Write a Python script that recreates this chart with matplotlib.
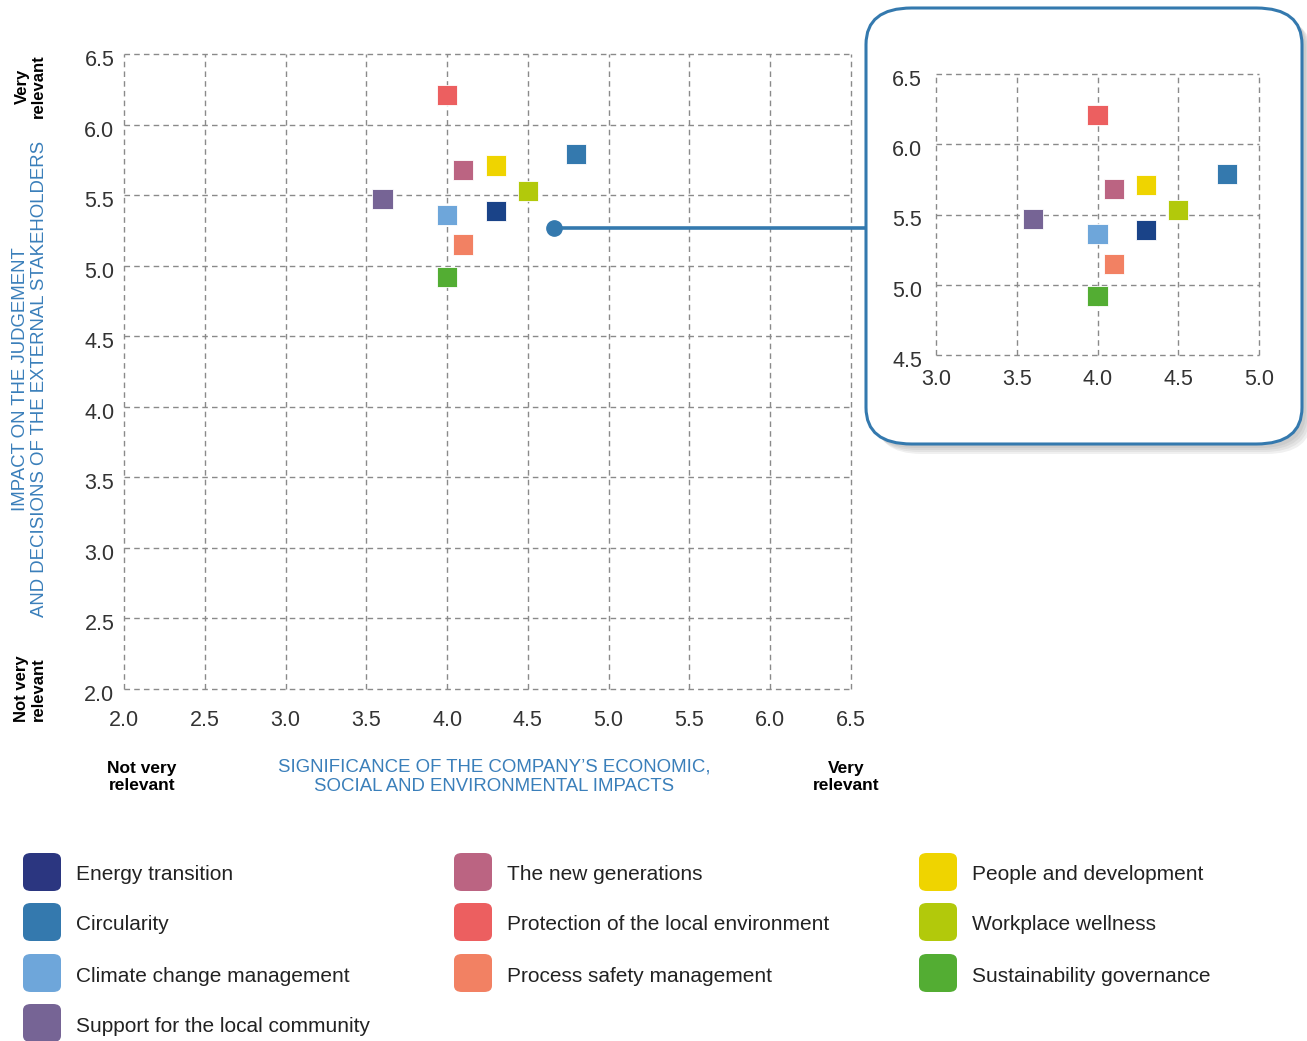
import numpy as np
import matplotlib
matplotlib.use("Agg")
import matplotlib.pyplot as plt
from matplotlib.patches import FancyBboxPatch
from matplotlib.lines import Line2D
from matplotlib.transforms import ScaledTranslation

plt.rcParams['font.family'] = ['Liberation Sans', 'DejaVu Sans']

# topics, scores and colours
topics = ["Energy transition", "Circularity", "Climate change management",
          "Support for the local community", "The new generations",
          "Protection of the local environment", "Process safety management",
          "People and development", "Workplace wellness",
          "Sustainability governance"]
x_sig = [4.3, 4.8, 4.0, 3.6, 4.1, 4.0, 4.1, 4.3, 4.5, 4.0]
y_imp = [5.39, 5.79, 5.36, 5.47, 5.68, 6.21, 5.15, 5.71, 5.53, 4.92]
colors = ["#1a4388", "#3479ae", "#6ea6da", "#766495", "#bb6482",
          "#ec5f60", "#f28163", "#efd400", "#b2c90b", "#53ad33"]
legend_colors = ["#2b3680", "#3479ae", "#6ea6da", "#766495", "#bb6482",
                 "#ec5f60", "#f28163", "#efd400", "#b2c90b", "#53ad33"]

main_ticks = np.arange(2.0, 6.51, 0.5)
inset_xticks = np.arange(3.0, 5.01, 0.5)
inset_yticks = np.arange(4.5, 6.51, 0.5)

# connector dot on the main chart
dot_x, dot_y = 4.66, 5.27

W, H = 1307, 1041
BLUE = "#3a7fba"


def fx(px):
    return px / W


def fy(py):
    return 1 - py / H


def style_axes(ax, xt, yt):
    ax.set_xlim(xt[0], xt[-1])
    ax.set_ylim(yt[0], yt[-1])
    ax.set_xticks(xt)
    ax.set_yticks(yt)
    ax.set_xticklabels(["%.1f" % v for v in xt])
    ax.set_yticklabels(["%.1f" % v for v in yt])
    for s in ax.spines.values():
        s.set_visible(False)
    ax.grid(True, color="#8a8a8a", linestyle=(0, (4, 3)), linewidth=1.0)
    ax.tick_params(length=0, labelsize=15.5, labelcolor="#333333", pad=10)
    for gl in ax.get_xgridlines() + ax.get_ygridlines():
        gl.set_clip_on(False)
    ax.set_axisbelow(True)


def nudge_ylabels(ax, px):
    # the labels sit a few pixels under their grid line in the reference
    off = ScaledTranslation(0, -px / 100, fig.dpi_scale_trans)
    for t in ax.yaxis.get_major_ticks():
        t.label1.set_transform(t.label1.get_transform() + off)


fig = plt.figure(figsize=(W / 100, H / 100), dpi=100)

ax = fig.add_axes([fx(124), fy(689), fx(851) - fx(124), fy(54) - fy(689)])
style_axes(ax, main_ticks, main_ticks)
ax.tick_params(axis='x', pad=15)
ax.tick_params(axis='y', pad=7)
ax.scatter(x_sig, y_imp, s=210, marker='s', c=colors, edgecolors='white',
           linewidths=0.6, zorder=3)
ax.plot([dot_x], [dot_y], 'o', color="#3479ae", markersize=11, zorder=4,
        clip_on=False)

# line from the dot to the zoom box
fig.canvas.draw()
dx, dy = fig.transFigure.inverted().transform(ax.transData.transform((dot_x, dot_y)))
fig.add_artist(Line2D([dx, fx(866)], [dy, dy], color="#3479ae", linewidth=2.6))

# zoom box with a soft shadow
for i, a in enumerate([0.05, 0.05, 0.05, 0.06]):
    off = 4 + i * 2
    sh = FancyBboxPatch((fx(866 + off), fy(444 + off)), fx(436), fy(8) - fy(444),
                        boxstyle="round,pad=0,rounding_size=0.035",
                        transform=fig.transFigure, facecolor="black",
                        edgecolor="none", alpha=a, zorder=1)
    fig.add_artist(sh)
box = FancyBboxPatch((fx(866), fy(444)), fx(436), fy(8) - fy(444),
                     boxstyle="round,pad=0,rounding_size=0.035",
                     transform=fig.transFigure, facecolor="white",
                     edgecolor="#3479ae", linewidth=2.2, zorder=2)
fig.add_artist(box)

ins = fig.add_axes([fx(936), fy(355), fx(1259) - fx(936), fy(74) - fy(355)])
ins.set_zorder(5)
ins.patch.set_alpha(0)
style_axes(ins, inset_xticks, inset_yticks)
ins.tick_params(axis='x', pad=10)
ins.scatter(x_sig, y_imp, s=210, marker='s', c=colors, edgecolors='white',
            linewidths=0.6, zorder=3)

nudge_ylabels(ax, 4)
nudge_ylabels(ins, 4)

# axis titles
fig.text(fx(30), fy(379), "IMPACT ON THE JUDGEMENT\nAND DECISIONS OF THE EXTERNAL STAKEHOLDERS",
         rotation=90, ha='center', va='center', color=BLUE, fontsize=13.4,
         linespacing=1.2)
fig.text(fx(30), fy(86), "Very\nrelevant", rotation=90, ha='center',
         va='center', fontsize=12, fontweight='bold', linespacing=1.1)
fig.text(fx(30), fy(689), "Not very\nrelevant", rotation=90, ha='center',
         va='center', fontsize=12, fontweight='bold', linespacing=1.1)
fig.text(fx(494), fy(777), "SIGNIFICANCE OF THE COMPANY\u2019S ECONOMIC,\nSOCIAL AND ENVIRONMENTAL IMPACTS",
         ha='center', va='center', color=BLUE, fontsize=13.4, linespacing=1.2)
fig.text(fx(142), fy(777), "Not very\nrelevant", ha='center', va='center',
         fontsize=12.5, fontweight='bold', linespacing=1.2)
fig.text(fx(846), fy(777), "Very\nrelevant", ha='center', va='center',
         fontsize=12.5, fontweight='bold', linespacing=1.2)

# legend in three columns
col_x = [23, 454, 919]
row_y = [872, 922, 973, 1023]
order = [[0, 1, 2, 3], [4, 5, 6], [7, 8, 9]]
for c, idxs in enumerate(order):
    for r, i in enumerate(idxs):
        x0, yc = col_x[c], row_y[r]
        sq = FancyBboxPatch((fx(x0), fy(yc + 19)), fx(38), fy(yc - 19) - fy(yc + 19),
                            boxstyle="round,pad=0,rounding_size=0.006",
                            transform=fig.transFigure, facecolor=legend_colors[i],
                            edgecolor="none")
        fig.add_artist(sq)
        fig.text(fx(x0 + 53), fy(yc + 3), topics[i], ha='left', va='center',
                 fontsize=15, color="#222222")

fig.savefig("out.png", dpi=100)
